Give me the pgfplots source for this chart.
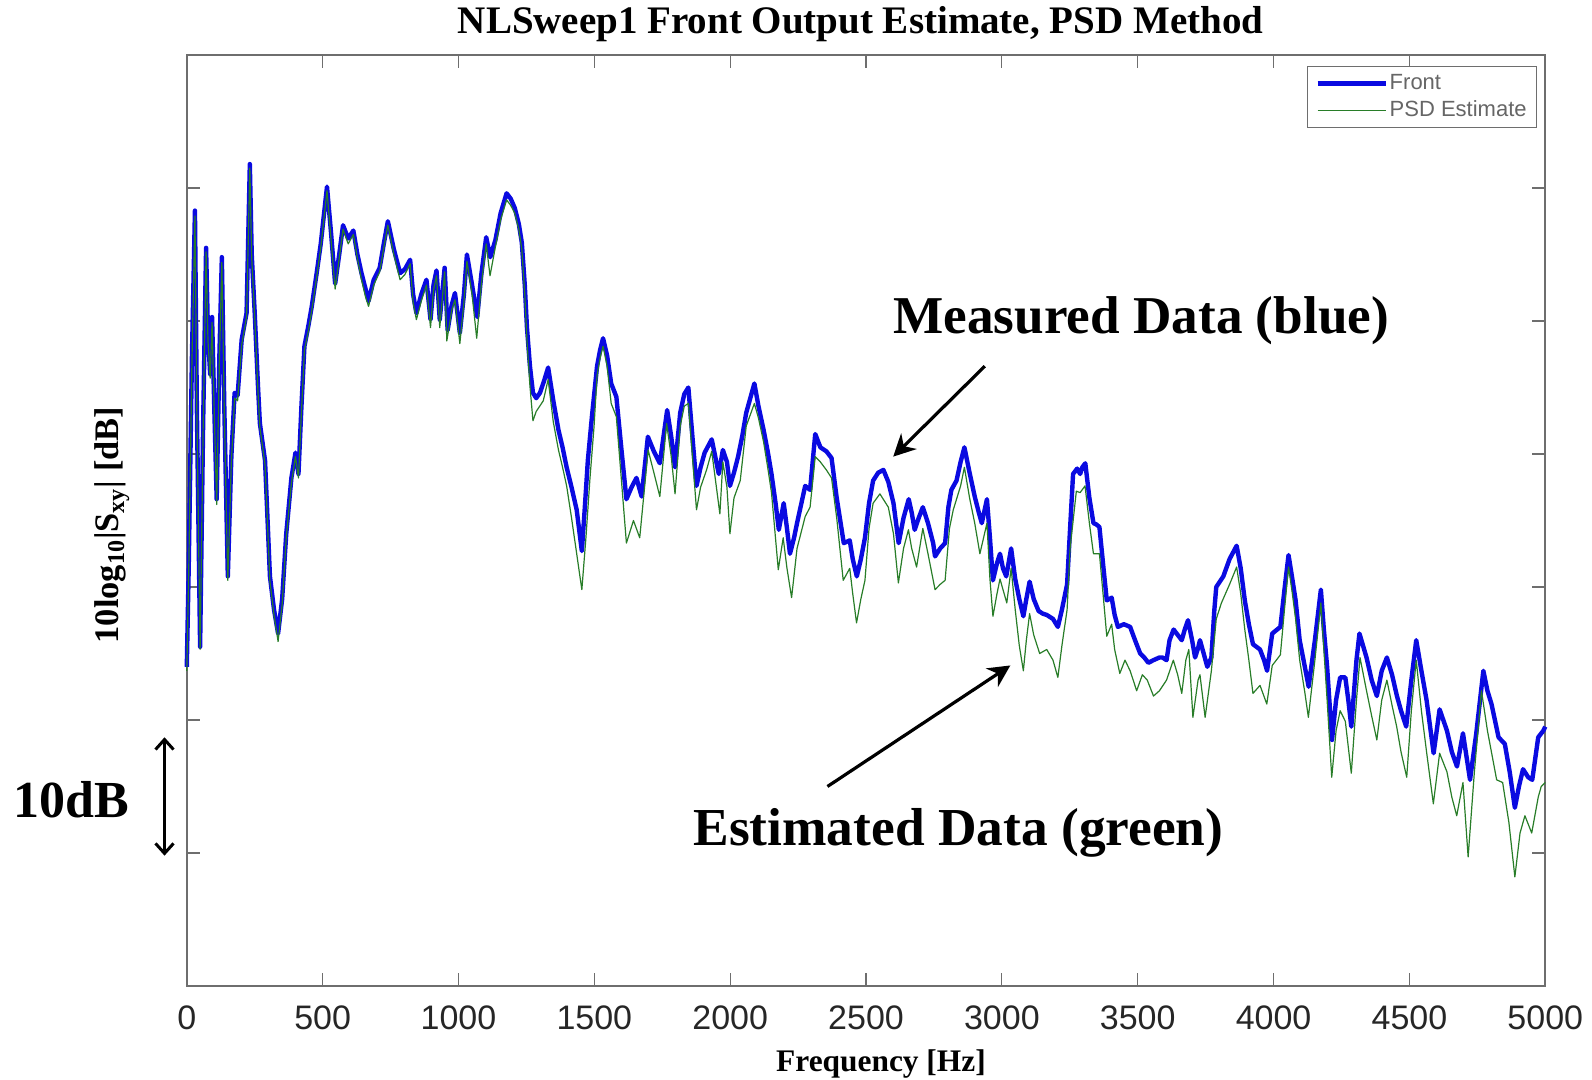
\documentclass[border=0pt]{standalone}
\usepackage{fontspec}
\setmainfont{Liberation Serif}
\newfontfamily\arialfont{Liberation Sans}
\usepackage{pgfplots}
\pgfplotsset{compat=1.18}
\usepackage{pgfplotstable}
\usetikzlibrary{arrows.meta}

\definecolor{frontblue}{RGB}{10,10,225}
\definecolor{psdgreen}{RGB}{40,125,40}
\definecolor{axisgray}{RGB}{110,110,110}

% Measured front output spectrum (frequency in Hz, level in dB)
\pgfplotstableread{
f db
0 14.0
7 21.4
19 37.4
30 48.3
37 33.6
49 15.5
60 32.1
71 45.5
78 38.9
86 36.0
93 40.3
101 33.6
110 26.6
120 37.4
129 44.8
138 33.6
151 20.8
164 29.8
176 34.6
187 34.4
202 38.6
220 40.6
232 51.8
239 45.0
250 40.6
262 35.1
269 32.3
288 29.5
306 20.8
321 18.3
336 16.5
351 19.1
366 24.0
385 28.2
400 30.1
411 28.5
422 33.6
433 38.1
448 39.7
460 41.1
478 43.6
493 45.8
516 50.1
531 46.6
546 42.8
561 45.0
575 47.2
594 46.2
613 46.8
628 45.0
643 43.6
658 42.4
669 41.5
688 43.1
710 44.0
725 45.8
740 47.5
762 45.4
785 43.6
803 43.9
822 44.6
833 42.0
845 40.6
863 42.0
882 43.1
897 40.1
908 42.7
919 43.8
931 40.1
949 44.0
960 39.3
975 41.2
987 42.1
1005 39.1
1020 42.0
1031 45.0
1050 42.7
1069 40.3
1084 43.5
1102 46.3
1117 44.8
1136 46.1
1155 48.1
1177 49.6
1192 49.2
1207 48.5
1222 47.3
1233 45.9
1244 42.7
1252 39.5
1263 36.6
1274 34.6
1286 34.2
1300 34.6
1315 35.5
1330 36.5
1349 34.0
1368 31.8
1383 30.5
1398 29.0
1416 27.5
1435 25.8
1454 22.7
1465 26.0
1476 29.5
1491 32.8
1510 36.6
1521 37.8
1532 38.7
1547 37.4
1562 35.3
1581 34.3
1599 30.5
1618 26.6
1637 27.5
1655 28.2
1674 26.8
1697 31.3
1719 30.2
1741 29.3
1768 33.3
1783 31.3
1797 29.0
1816 33.1
1831 34.5
1846 35.0
1861 31.3
1876 27.6
1891 29.0
1906 30.1
1932 31.1
1958 28.5
1973 30.3
1988 29.4
1999 27.6
2014 28.6
2029 29.8
2044 31.3
2059 33.1
2089 35.3
2104 33.6
2123 31.8
2138 30.2
2152 28.5
2167 26.3
2179 24.3
2197 26.3
2209 24.4
2220 22.5
2235 23.7
2246 24.8
2276 27.6
2294 27.3
2313 31.5
2332 30.5
2354 30.2
2373 29.7
2392 26.7
2418 23.3
2440 23.5
2451 22.1
2466 20.8
2481 22.1
2496 23.7
2511 26.3
2526 28.0
2545 28.6
2564 28.8
2582 27.9
2601 26.3
2620 23.3
2638 25.2
2657 26.6
2668 25.6
2679 24.3
2694 25.2
2709 26.0
2728 24.8
2747 23.3
2754 22.3
2773 22.9
2791 23.3
2803 26.0
2814 27.3
2833 28.0
2848 29.4
2862 30.5
2881 28.6
2900 26.8
2915 25.6
2926 24.8
2945 26.6
2956 23.7
2967 20.5
2982 21.8
2993 22.5
3004 21.4
3016 20.8
3034 22.9
3049 20.6
3064 19.1
3079 17.8
3090 19.1
3102 20.4
3117 19.1
3135 18.2
3150 18.0
3165 17.9
3188 17.6
3206 17.0
3221 18.3
3240 20.2
3251 24.4
3262 28.5
3277 28.9
3288 28.5
3296 29.0
3307 29.3
3322 26.7
3337 24.8
3348 24.7
3359 24.5
3374 21.4
3386 19.0
3397 19.1
3404 19.2
3415 17.9
3427 17.0
3449 17.2
3472 17.0
3490 16.0
3509 15.0
3524 14.7
3539 14.3
3558 14.5
3580 14.7
3591 14.7
3606 14.5
3617 16.0
3632 16.8
3647 16.4
3662 16.0
3673 16.8
3685 17.5
3700 16.0
3711 14.7
3722 15.4
3729 16.0
3744 14.9
3756 14.0
3771 14.7
3782 18.3
3789 20.0
3815 20.8
3838 22.1
3864 23.1
3879 21.4
3894 19.0
3909 17.2
3924 15.7
3950 15.3
3965 14.5
3976 13.7
3995 16.5
4025 17.0
4040 19.8
4055 22.4
4069 20.6
4081 19.0
4096 16.0
4114 14.1
4129 12.5
4152 16.0
4174 19.8
4185 16.8
4197 14.0
4215 8.5
4230 11.5
4245 13.2
4264 13.2
4275 11.5
4286 9.5
4305 14.5
4316 16.5
4342 14.7
4361 13.0
4380 11.8
4398 13.7
4417 14.7
4436 13.4
4454 11.8
4469 10.7
4488 9.5
4507 13.0
4525 16.0
4544 13.7
4563 11.5
4589 7.5
4611 10.8
4638 9.2
4656 7.6
4675 6.5
4697 9.0
4723 5.5
4746 9.0
4772 13.7
4787 12.2
4802 11.2
4828 8.7
4851 8.2
4869 6.1
4888 3.4
4903 5.0
4918 6.3
4937 5.7
4952 5.5
4974 8.7
4993 9.2
5000 9.5
}\frontdata

% Output estimated with the PSD method
\pgfplotstableread{
f db
0 13.7
7 21.0
19 37.0
30 47.9
37 33.2
49 15.3
60 31.7
71 45.2
78 38.5
86 35.7
93 39.9
101 33.2
110 26.2
120 37.0
129 44.4
138 33.2
151 20.5
164 29.4
176 34.2
187 34.0
202 38.2
220 40.3
232 51.5
239 44.7
250 40.3
262 34.7
269 32.0
288 29.2
306 20.4
321 17.9
336 15.9
351 18.7
366 23.7
385 27.8
400 29.8
411 28.2
422 33.2
433 37.8
448 39.3
460 40.8
478 43.3
493 45.5
516 49.8
531 46.1
546 42.4
561 44.7
575 46.9
594 45.8
613 46.5
628 44.7
643 43.1
658 41.8
669 41.1
688 42.7
710 43.7
725 45.5
740 47.2
762 45.0
785 43.1
803 43.5
822 44.3
833 41.4
845 40.1
863 41.5
882 42.7
897 39.5
908 42.3
919 43.4
931 39.5
949 43.7
957 38.5
975 40.8
987 41.6
1005 38.3
1020 41.4
1031 44.5
1050 42.0
1067 38.7
1084 42.7
1102 45.8
1116 43.4
1136 45.6
1155 47.6
1177 49.1
1192 48.7
1207 48.1
1222 46.9
1233 45.4
1244 42.0
1252 38.5
1263 35.1
1274 32.5
1286 33.2
1312 34.0
1330 35.6
1349 32.4
1368 30.3
1383 29.0
1398 27.6
1416 25.2
1435 22.5
1454 19.8
1469 23.7
1484 28.2
1499 32.1
1510 35.9
1521 37.2
1532 38.1
1547 36.6
1562 33.8
1581 32.8
1599 28.2
1618 23.3
1644 25.0
1667 23.7
1698 30.3
1719 28.6
1741 26.8
1766 32.3
1783 29.8
1797 27.0
1816 32.1
1831 33.6
1846 33.8
1861 29.8
1876 25.8
1891 27.5
1913 28.8
1932 30.2
1962 25.5
1973 29.4
1988 27.5
1999 24.0
2014 26.7
2037 28.0
2059 32.1
2089 33.8
2104 32.7
2123 30.9
2138 29.0
2152 27.1
2177 21.3
2195 23.7
2209 21.4
2226 19.2
2246 22.9
2276 25.3
2294 26.0
2313 29.8
2332 29.4
2354 28.8
2373 28.2
2392 25.2
2416 20.5
2440 21.4
2451 19.5
2465 17.3
2481 19.1
2496 20.5
2511 24.4
2526 26.3
2551 27.0
2582 26.0
2601 24.0
2619 20.3
2638 22.9
2656 24.3
2668 22.9
2686 21.5
2709 24.4
2728 22.5
2754 19.8
2773 20.2
2791 20.5
2807 24.4
2821 25.8
2848 27.6
2862 29.0
2881 26.7
2900 24.8
2919 22.5
2945 24.8
2956 20.6
2967 17.8
2982 19.5
2993 20.6
3018 18.8
3034 21.4
3049 18.3
3064 15.6
3079 13.7
3090 16.0
3102 18.0
3117 16.4
3139 15.0
3165 15.3
3188 14.5
3206 13.2
3221 15.6
3240 18.3
3251 22.9
3274 27.2
3288 27.1
3306 27.6
3322 24.8
3337 22.5
3359 22.5
3374 19.1
3386 16.3
3404 17.2
3415 15.3
3434 13.5
3453 14.5
3472 13.7
3496 12.2
3517 13.4
3535 13.0
3558 11.8
3580 12.2
3606 13.0
3631 14.5
3647 13.4
3662 12.0
3677 14.5
3688 15.3
3703 10.2
3722 13.0
3729 13.4
3748 10.2
3771 13.7
3789 17.6
3808 18.8
3838 20.2
3864 21.5
3879 19.5
3894 16.8
3909 14.5
3924 12.0
3950 12.6
3975 11.2
3995 14.1
4025 14.9
4040 18.3
4055 21.5
4069 19.5
4081 17.6
4096 14.5
4114 12.2
4128 10.2
4152 14.5
4174 18.8
4185 15.3
4197 11.5
4214 5.7
4230 9.2
4245 10.7
4264 9.9
4286 6.0
4305 11.5
4318 14.7
4342 12.2
4361 10.3
4380 8.5
4398 11.5
4417 13.0
4436 11.1
4453 9.5
4469 7.6
4490 5.7
4507 10.7
4525 14.5
4544 10.7
4563 7.6
4588 3.7
4611 7.5
4638 6.1
4656 4.2
4674 2.8
4697 5.3
4716 -0.3
4739 6.1
4765 12.2
4787 9.2
4821 5.5
4843 5.3
4866 2.3
4888 -1.8
4907 1.5
4925 2.8
4950 1.5
4974 4.2
4985 5.0
5000 5.3
}\psddata

\begin{document}
\begin{tikzpicture}
\useasboundingbox (0,0) rectangle (796pt,540pt);
\begin{axis}[
  at={(93.4pt,47pt)}, anchor=south west,
  scale only axis, width=679.25pt, height=465.5pt,
  xmin=0, xmax=5000, ymin=-10, ymax=60,
  clip=false,
  xtick={0,500,...,5000},
  xticklabels={0,500,1000,1500,2000,2500,3000,3500,4000,4500,5000},
  ytick={0,10,...,50}, yticklabels={},
  tick align=inside, major tick length=6.5pt,
  tick style={axisgray, line width=0.6pt},
  axis line style={axisgray, line width=0.8pt},
  xticklabel style={font=\arialfont\fontsize{17}{17}\selectfont, text=black!85, anchor=base, yshift=-22pt},
  title={NLSweep1 Front Output Estimate, PSD Method},
  every axis title/.style={at={(axis description cs:0.496,1.0329)}, anchor=center,
    font=\fontsize{19.5}{20}\bfseries\selectfont},
  xlabel={Frequency [Hz]},
  every axis x label/.style={at={(axis description cs:0.511,-0.0843)}, anchor=center,
    font=\fontsize{15.7}{16}\bfseries\selectfont},
  ylabel={10log\textsubscript{10}|S\textsubscript{xy}| [dB]},
  every axis y label/.style={at={(axis description cs:-0.0550,0.495)}, anchor=center, rotate=90,
    font=\fontsize{17.2}{17}\bfseries\selectfont},
  legend style={at={(axis description cs:0.9941,0.9882)}, anchor=north east,
    draw=axisgray, line width=0.6pt, fill=white,
    font=\arialfont\fontsize{11}{11}\selectfont, text=black!60,
    inner xsep=4pt, inner ysep=3pt, row sep=2pt,
    nodes={inner xsep=1pt, inner ysep=1pt}},
  legend cell align=left,
  legend image code/.code={\draw[#1] (0pt,0pt) -- (34pt,0pt);},
]
\addplot[frontblue, line width=2.2pt, line join=round] table[x=f, y=db] {\frontdata};
\addlegendentry{Front}
\addplot[psdgreen, line width=0.6pt, line join=round] table[x=f, y=db] {\psddata};
\addlegendentry{PSD Estimate}

% callouts
\node[font=\fontsize{26.6}{27}\bfseries\selectfont] at (axis cs:3513,40.0) {Measured Data (blue)};
\draw[line width=1.6pt, -{Stealth[length=11pt, width=11pt]}] (axis cs:2937,36.6) -- (axis cs:2600,29.8);
\node[font=\fontsize{26.7}{27}\bfseries\selectfont] at (axis cs:2840,1.5) {Estimated Data (green)};
\draw[line width=1.6pt, -{Stealth[length=11pt, width=11pt]}] (axis cs:2358,5.0) -- (axis cs:3031,14.1);

% 10 dB scale marker
\node[font=\fontsize{26}{26}\bfseries\selectfont] at (axis cs:-426,4.0) {10dB};
\draw[line width=1.5pt, {Straight Barb[length=5pt, width=9pt]}-{Straight Barb[length=5pt, width=9pt]}] (axis cs:-82,8.7) -- (axis cs:-82,-0.2);
\end{axis}
\end{tikzpicture}
\end{document}
